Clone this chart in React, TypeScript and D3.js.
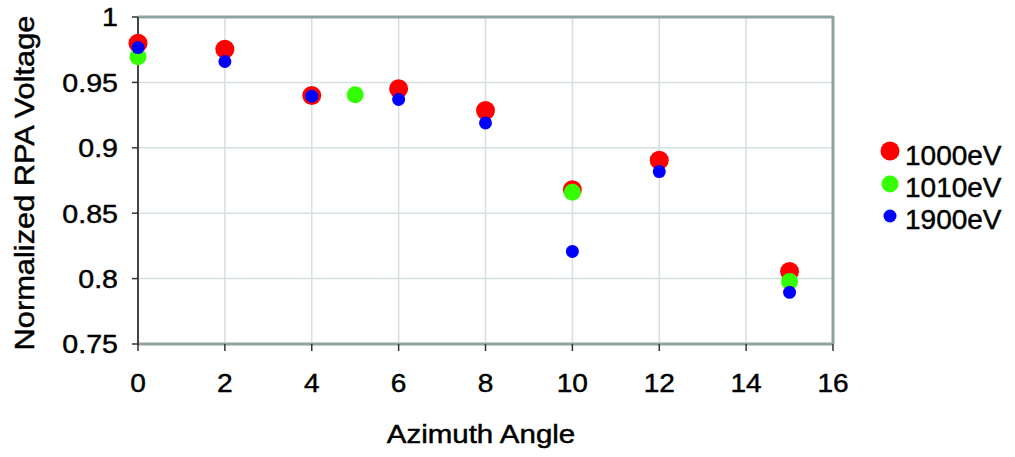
import React from "react";
import * as d3 from "d3";

const xTicks = [0, 2, 4, 6, 8, 10, 12, 14, 16];
const yTicks = [0.75, 0.8, 0.85, 0.9, 0.95, 1];

const angles1000 = [0, 2, 4, 6, 8, 10, 12, 15];
const values1000 = [0.98, 0.9754, 0.94, 0.9452, 0.9285, 0.868, 0.8905, 0.8054];

const angles1010 = [0, 5, 10, 15];
const values1010 = [0.9697, 0.9405, 0.866, 0.7977];

const angles1900 = [0, 2, 4, 6, 8, 10, 12, 15];
const values1900 = [0.9766, 0.966, 0.9395, 0.937, 0.919, 0.8208, 0.8818, 0.7895];

const seriesNames = ["1000eV", "1010eV", "1900eV"];
const seriesColors = ["#ff0000", "#33ff00", "#0000ff"];
const seriesRadii = [9.5, 8.5, 6.5];

function T({ x, y, sx = 1, rot = 0, size, anchor = "start", dy = "0", children }: any) {
  return (
    <g transform={`translate(${x},${y}) rotate(${rot}) scale(${sx},1)`}>
      <text x={0} y={0} dy={dy} textAnchor={anchor} fontSize={size} fill="#000" stroke="#000" strokeWidth={0.45}>{children}</text>
    </g>
  );
}

export default function App() {
  const W = 1015, H = 457;
  const left = 138, right = 833, top = 17, bottom = 344;
  const x = d3.scaleLinear().domain([0, 16]).range([left, right]);
  const y = d3.scaleLinear().domain([0.75, 1]).range([bottom, top]);
  const series = [
    { xs: angles1000, ys: values1000 },
    { xs: angles1010, ys: values1010 },
    { xs: angles1900, ys: values1900 },
  ];
  const font = "'Liberation Sans', Arial, sans-serif";
  const frame = "#8fa2a2";
  const legendDotY = [151, 184, 216];
  const legendTextY = [165, 197, 229];
  return (
    <svg width={W} height={H} style={{ position: "absolute", left: 0, top: 0 }} fontFamily={font}>
      <rect x={0} y={0} width={W} height={H} fill="#fff" />
      {xTicks.slice(1, -1).map((t) => (
        <line key={"gx" + t} x1={x(t)} x2={x(t)} y1={top} y2={bottom} stroke="#d6dfdf" strokeWidth={1.5} />
      ))}
      {yTicks.slice(1, -1).map((t) => (
        <line key={"gy" + t} x1={left} x2={right} y1={y(t)} y2={y(t)} stroke="#d6dfdf" strokeWidth={1.5} />
      ))}
      <line x1={left} x2={right} y1={top} y2={top} stroke={frame} strokeWidth={3} />
      <line x1={right} x2={right} y1={top - 1} y2={bottom} stroke={frame} strokeWidth={3} />
      <line x1={left} x2={right} y1={bottom} y2={bottom} stroke={frame} strokeWidth={3} />
      <line x1={left} x2={left} y1={top} y2={bottom + 1} stroke="#444" strokeWidth={2} />
      {yTicks.map((t) => (
        <g key={"yt" + t}>
          <line x1={left - 6} x2={left} y1={y(t)} y2={y(t)} stroke="#333" strokeWidth={1.5} />
          <T x={left - 20} y={y(t)} dy="0.36em" anchor="end" size={26} sx={1.1}>{t}</T>
        </g>
      ))}
      {xTicks.map((t) => (
        <g key={"xt" + t}>
          <line x1={x(t)} x2={x(t)} y1={bottom} y2={bottom + 7} stroke="#333" strokeWidth={1.5} />
          <T x={x(t)} y={392} anchor="middle" size={26} sx={1.08}>{t}</T>
        </g>
      ))}
      {series.map((s, i) =>
        s.xs.map((a, j) => (
          <circle key={`p${i}-${j}`} cx={x(a)} cy={y(s.ys[j])} r={seriesRadii[i]} fill={seriesColors[i]} />
        ))
      )}
      <T x={481} y={443} anchor="middle" size={25} sx={1.18}>Azimuth Angle</T>
      <T x={34} y={183} rot={-90} anchor="middle" size={28} sx={1.1}>Normalized RPA Voltage</T>
      {seriesNames.map((n, i) => (
        <g key={n}>
          <circle cx={890} cy={legendDotY[i]} r={seriesRadii[i]} fill={seriesColors[i]} />
          <T x={905} y={legendTextY[i]} size={28} sx={1.0}>{n}</T>
        </g>
      ))}
    </svg>
  );
}
